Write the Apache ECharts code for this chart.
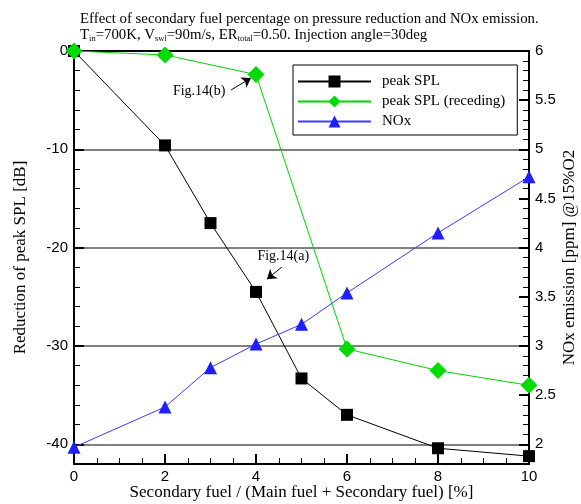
<!DOCTYPE html>
<html>
<head>
<meta charset="utf-8">
<script src="https://cdn.jsdelivr.net/npm/echarts@6/dist/echarts.min.js"></script>
<style>
  html, body { margin: 0; padding: 0; background: #fff; }
  #chart { width: 581px; height: 504px; }
</style>
</head>
<body>
<div id="chart"></div>
<script>
// Secondary fuel share [%] and measured quantities
const fuelShare = [0, 2, 3, 4, 5, 6, 8, 10];
const peakSPL = [0, -9.6, -17.5, -24.5, -33.3, -37.0, -40.4, -41.2];
const recedingShare = [0, 2, 4, 6, 8, 10];
const peakSPLReceding = [0, -0.4, -2.4, -30.3, -32.5, -34.0];
const noxShare = [0, 2, 3, 4, 5, 6, 8, 10];
const noxEmission = [1.97, 2.38, 2.78, 3.02, 3.22, 3.54, 4.15, 4.72];

// Callouts: label anchor and arrow [from, to] in data coordinates
const calloutB = { text: 'Fig.14(b)', at: [2.75, -4.1], arrow: [[3.45, -3.97], [3.89, -2.75]] };
const calloutA = { text: 'Fig.14(a)', at: [4.6, -20.9], arrow: [[4.57, -21.97], [4.24, -23.2]] };

const pairs = (xs, ys) => xs.map((x, i) => [x, ys[i]]);

const serif = '"Liberation Serif", "Times New Roman", serif';
const sans = '"Liberation Sans", Arial, sans-serif';

const chart = echarts.init(document.getElementById('chart'), null, { renderer: 'canvas' });

function callout(c) {
  return {
    silent: true,
    symbol: ['none', 'arrow'],
    symbolSize: 9,
    lineStyle: { color: '#000', width: 1, type: 'solid' },
    itemStyle: { color: '#000' },
    label: { show: false },
    emphasis: { disabled: true },
    data: [[{ coord: c.arrow[0] }, { coord: c.arrow[1] }]]
  };
}
function calloutText(c) {
  return {
    silent: true,
    symbol: 'circle',
    symbolSize: 0,
    label: {
      show: true, position: 'inside', formatter: c.text,
      fontFamily: serif, fontSize: 14, color: '#000'
    },
    data: [{ coord: c.at }]
  };
}

const option = {
  animation: false,
  backgroundColor: '#fff',
  title: {
    left: 75, top: 6, itemGap: 0,
    text: '{a|Effect of secondary fuel percentage on pressure reduction and NOx emission.}\n' +
          '{a|T}{s|in}{a|=700K, V}{s|swl}{a|=90m/s, ER}{s|total}{a|=0.50. Injection angle=30deg}',
    textStyle: {
      fontWeight: 'normal',
      rich: {
        a: { fontFamily: serif, fontSize: 14.8, fontWeight: 'normal', color: '#000', lineHeight: 16 },
        s: { fontFamily: serif, fontSize: 8.5, fontWeight: 'normal', color: '#000', lineHeight: 16, padding: [8, 0, 0, 0] }
      }
    }
  },
  grid: {
    left: 74, right: 52, top: 51, bottom: 40,
    outerBoundsMode: 'none', containLabel: false,
    show: true, borderColor: '#000', borderWidth: 2, backgroundColor: 'transparent'
  },
  legend: {
    left: 293, top: 65, orient: 'vertical',
    itemWidth: 73, itemHeight: 15, itemGap: 5,
    padding: [9, 12, 6, 4],
    borderColor: '#000', borderWidth: 1, backgroundColor: '#fff',
    textStyle: { fontFamily: serif, fontSize: 15, color: '#000', padding: [0, 0, 0, 6] },
    data: ['peak SPL', 'peak SPL (receding)', 'NOx']
  },
  xAxis: {
    type: 'value', min: 0, max: 10, interval: 2,
    name: 'Secondary fuel / (Main fuel + Secondary fuel) [%]',
    nameLocation: 'middle', nameGap: 20, nameMoveOverlap: false,
    nameTextStyle: { fontFamily: serif, fontSize: 17, color: '#000', verticalAlign: 'top' },
    axisLine: { onZero: false, lineStyle: { color: '#000', width: 2 } },
    axisTick: { inside: true, length: 10, lineStyle: { color: '#000', width: 2 } },
    minorTick: { show: true, splitNumber: 4, length: 6, lineStyle: { color: '#000', width: 1 } },
    axisLabel: { fontFamily: sans, fontSize: 15, color: '#000', margin: 5 },
    splitLine: { show: false }
  },
  yAxis: [
    {
      type: 'value', min: -42, max: 0, splitNumber: 4,
      name: 'Reduction of peak SPL [dB]',
      nameLocation: 'middle', nameGap: 45,
      nameTextStyle: { fontFamily: serif, fontSize: 17, color: '#000' },
      axisLine: { onZero: false, lineStyle: { color: '#000', width: 2 } },
      axisTick: { inside: true, length: 10, lineStyle: { color: '#000', width: 2 } },
      minorTick: { show: true, splitNumber: 5, length: 6, lineStyle: { color: '#000', width: 1 } },
      axisLabel: { fontFamily: sans, fontSize: 15, color: '#000', margin: 6, showMinLabel: false },
      splitLine: { show: true, showMinLine: false, showMaxLine: false, lineStyle: { color: '#808080', width: 2 } }
    },
    {
      type: 'value', min: 1.8, max: 6, splitNumber: 8, position: 'right',
      name: 'NOx emission [ppm] @15%O2',
      nameLocation: 'middle', nameGap: 32, nameRotate: 90, nameMoveOverlap: false,
      nameTextStyle: { fontFamily: serif, fontSize: 17, color: '#000' },
      axisLine: { onZero: false, lineStyle: { color: '#000', width: 2 } },
      axisTick: { inside: true, length: 10, lineStyle: { color: '#000', width: 2 } },
      minorTick: { show: true, splitNumber: 5, length: 6, lineStyle: { color: '#000', width: 1 } },
      axisLabel: { fontFamily: sans, fontSize: 15, color: '#000', margin: 6, showMinLabel: false },
      splitLine: { show: false }
    }
  ],
  series: [
    {
      name: 'peak SPL', type: 'line', yAxisIndex: 0,
      data: pairs(fuelShare, peakSPL),
      symbol: 'rect', symbolSize: 12,
      lineStyle: { color: '#000', width: 1 },
      itemStyle: { color: '#000' },
      markLine: callout(calloutA),
      markPoint: calloutText(calloutA),
      clip: false, z: 3
    },
    {
      name: 'peak SPL (receding)', type: 'line', yAxisIndex: 0,
      data: pairs(recedingShare, peakSPLReceding),
      symbol: 'diamond', symbolSize: 17,
      lineStyle: { color: '#00d400', width: 1 },
      itemStyle: { color: '#00dc00' },
      markLine: callout(calloutB),
      markPoint: calloutText(calloutB),
      clip: false, z: 4
    },
    {
      name: 'NOx', type: 'line', yAxisIndex: 1,
      data: pairs(noxShare, noxEmission),
      symbol: 'triangle', symbolSize: 13,
      lineStyle: { color: '#3c3cff', width: 1 },
      itemStyle: { color: '#1e1eff' },
      clip: false, z: 5
    }
  ]
};

chart.setOption(option);
</script>
</body>
</html>
